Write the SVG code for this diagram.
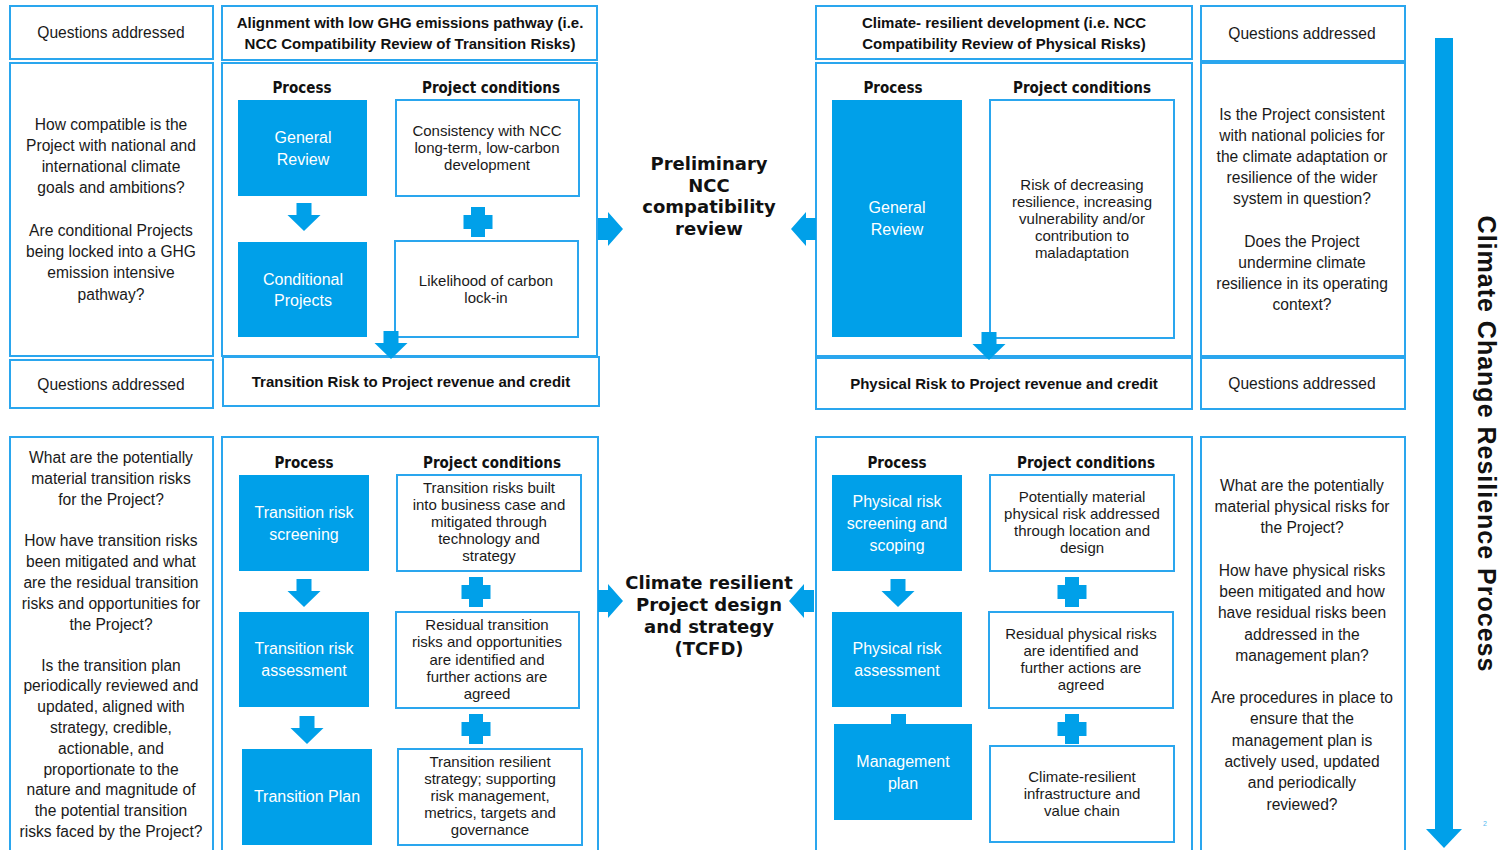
<svg xmlns="http://www.w3.org/2000/svg" xmlns:xlink="http://www.w3.org/1999/xlink" width="1502" height="850" viewBox="0 0 1502 850">
<style>
.frame{fill:#fff;stroke:#2aa6ee;stroke-width:2}
.blue{fill:#00a0e9}
.q{font-family:"Liberation Sans",Arial,sans-serif;font-size:15.6px;fill:#1a1a1a;text-anchor:middle}
.c{font-family:"Liberation Sans",Arial,sans-serif;font-size:15px;fill:#1a1a1a;text-anchor:middle}
.w{font-family:"Liberation Sans",Arial,sans-serif;font-size:16px;fill:#fff;text-anchor:middle}
.h{font-family:"Liberation Sans",Arial,sans-serif;font-size:15px;font-weight:bold;fill:#111;text-anchor:middle}
.sub{font-family:"DejaVu Sans Condensed","DejaVu Sans",Verdana,sans-serif;font-size:15px;font-weight:bold;fill:#111;text-anchor:middle}
.big{font-family:"DejaVu Sans",Verdana,sans-serif;font-size:18px;font-weight:bold;fill:#111;text-anchor:middle}
.side{font-family:"Liberation Sans",Arial,sans-serif;font-size:25px;letter-spacing:1px;font-weight:bold;fill:#111;text-anchor:middle}
</style>
<defs>
<path id="down" class="blue" d="M-7.5,0 h15 v12 h9 l-16.5,16 l-16.5,-16 h9 z"/>
<path id="right" class="blue" d="M0,-11 h10 v-6 l15,17 l-15,17 v-6 h-10 z"/>
<path id="plus" class="blue" d="M-7,-15 h14 v8 h7.5 v14 h-7.5 v8 h-14 v-8 h-7.5 v-14 h7.5 z"/>
</defs>
<rect width="1502" height="850" fill="#fff"/>

<!-- Left questions column -->
<g id="q-header-tl">
<rect class="frame" x="10" y="6" width="203" height="53"/>
<text class="q" x="111" y="38">Questions addressed</text>
</g>
<g id="q-text-tl">
<rect class="frame" x="10" y="63" width="203" height="293"/>
<text class="q"><tspan x="111" y="130">How compatible is the</tspan><tspan x="111" y="151">Project with national and</tspan><tspan x="111" y="172">international climate</tspan><tspan x="111" y="193">goals and ambitions?</tspan><tspan x="111" y="236">Are conditional Projects</tspan><tspan x="111" y="257">being locked into a GHG</tspan><tspan x="111" y="278">emission intensive</tspan><tspan x="111" y="300">pathway?</tspan></text>
</g>
<g id="q-header-bl">
<rect class="frame" x="10" y="360" width="203" height="48"/>
<text class="q" x="111" y="390">Questions addressed</text>
</g>
<g id="q-text-bl">
<rect class="frame" x="10" y="437" width="203" height="420"/>
<text class="q"><tspan x="111" y="463">What are the potentially</tspan><tspan x="111" y="484">material transition risks</tspan><tspan x="111" y="505">for the Project?</tspan><tspan x="111" y="546">How have transition risks</tspan><tspan x="111" y="567">been mitigated and what</tspan><tspan x="111" y="588">are the residual transition</tspan><tspan x="111" y="609">risks and opportunities for</tspan><tspan x="111" y="630">the Project?</tspan><tspan x="111" y="671">Is the transition plan</tspan><tspan x="111" y="691">periodically reviewed and</tspan><tspan x="111" y="712">updated, aligned with</tspan><tspan x="111" y="733">strategy, credible,</tspan><tspan x="111" y="754">actionable, and</tspan><tspan x="111" y="775">proportionate to the</tspan><tspan x="111" y="795">nature and magnitude of</tspan><tspan x="111" y="816">the potential transition</tspan><tspan x="111" y="837">risks faced by the Project?</tspan></text>
</g>

<!-- Transition top -->
<g id="trans-header">
<rect class="frame" x="222" y="6" width="375" height="54"/>
<text class="h"><tspan x="410" y="28">Alignment with low GHG emissions pathway (i.e.</tspan><tspan x="410" y="49">NCC Compatibility Review of Transition Risks)</tspan></text>
</g>
<g id="trans-panel">
<rect class="frame" x="222" y="63" width="375" height="293"/>
<text class="sub" x="302" y="93">Process</text>
<text class="sub" x="491" y="93">Project conditions</text>
</g>
<g id="general-review-1">
<rect class="blue" x="238" y="100" width="129" height="96"/>
<text class="w"><tspan x="303" y="143">General</tspan><tspan x="303" y="165">Review</tspan></text>
</g>
<g id="consistency">
<rect class="frame" x="396" y="100" width="183" height="96"/>
<text class="c"><tspan x="487" y="136">Consistency with NCC</tspan><tspan x="487" y="153">long-term, low-carbon</tspan><tspan x="487" y="170">development</tspan></text>
</g>
<g id="conditional-projects">
<rect class="blue" x="238" y="242" width="129" height="95"/>
<text class="w"><tspan x="303" y="285">Conditional</tspan><tspan x="303" y="306">Projects</tspan></text>
</g>
<g id="carbon-lockin">
<rect class="frame" x="395" y="241" width="183" height="96"/>
<text class="c"><tspan x="486" y="286">Likelihood of carbon</tspan><tspan x="486" y="303">lock-in</tspan></text>
</g>
<g id="trans-risk-bar">
<rect class="frame" x="223" y="357" width="376" height="49"/>
<text class="h" x="411" y="387">Transition Risk to Project revenue and credit</text>
</g>

<!-- Physical top -->
<g id="phys-header">
<rect class="frame" x="816" y="6" width="376" height="53"/>
<text class="h"><tspan x="1004" y="28">Climate- resilient development (i.e. NCC</tspan><tspan x="1004" y="49">Compatibility Review of Physical Risks)</tspan></text>
</g>
<g id="phys-panel">
<rect class="frame" x="816" y="63" width="376" height="293"/>
<text class="sub" x="893" y="93">Process</text>
<text class="sub" x="1082" y="93">Project conditions</text>
</g>
<g id="general-review-2">
<rect class="blue" x="832" y="100" width="130" height="237"/>
<text class="w"><tspan x="897" y="213">General</tspan><tspan x="897" y="235">Review</tspan></text>
</g>
<g id="risk-decreasing">
<rect class="frame" x="990" y="100" width="184" height="238"/>
<text class="c"><tspan x="1082" y="190">Risk of decreasing</tspan><tspan x="1082" y="207">resilience, increasing</tspan><tspan x="1082" y="224">vulnerability and/or</tspan><tspan x="1082" y="241">contribution to</tspan><tspan x="1082" y="258">maladaptation</tspan></text>
</g>
<g id="phys-risk-bar">
<rect class="frame" x="816" y="358" width="376" height="51"/>
<text class="h" x="1004" y="389">Physical Risk to Project revenue and credit</text>
</g>

<!-- Right questions column -->
<g id="q-header-tr">
<rect class="frame" x="1201" y="6" width="204" height="55"/>
<text class="q" x="1302" y="39">Questions addressed</text>
</g>
<g id="q-text-tr">
<rect class="frame" x="1201" y="63" width="204" height="293"/>
<text class="q"><tspan x="1302" y="120">Is the Project consistent</tspan><tspan x="1302" y="141">with national policies for</tspan><tspan x="1302" y="162">the climate adaptation or</tspan><tspan x="1302" y="183">resilience of the wider</tspan><tspan x="1302" y="204">system in question?</tspan><tspan x="1302" y="247">Does the Project</tspan><tspan x="1302" y="268">undermine climate</tspan><tspan x="1302" y="289">resilience in its operating</tspan><tspan x="1302" y="310">context?</tspan></text>
</g>
<g id="q-header-br">
<rect class="frame" x="1201" y="358" width="204" height="51"/>
<text class="q" x="1302" y="389">Questions addressed</text>
</g>
<g id="q-text-br">
<rect class="frame" x="1201" y="437" width="204" height="420"/>
<text class="q"><tspan x="1302" y="491">What are the potentially</tspan><tspan x="1302" y="512">material physical risks for</tspan><tspan x="1302" y="533">the Project?</tspan><tspan x="1302" y="576">How have physical risks</tspan><tspan x="1302" y="597">been mitigated and how</tspan><tspan x="1302" y="618">have residual risks been</tspan><tspan x="1302" y="640">addressed in the</tspan><tspan x="1302" y="661">management plan?</tspan><tspan x="1302" y="703">Are procedures in place to</tspan><tspan x="1302" y="724">ensure that the</tspan><tspan x="1302" y="746">management plan is</tspan><tspan x="1302" y="767">actively used, updated</tspan><tspan x="1302" y="788">and periodically</tspan><tspan x="1302" y="810">reviewed?</tspan></text>
</g>

<!-- Transition bottom -->
<g id="trans-bottom-panel">
<rect class="frame" x="222" y="437" width="376" height="420"/>
<text class="sub" x="304" y="468">Process</text>
<text class="sub" x="492" y="468">Project conditions</text>
</g>
<g id="tr-screening">
<rect class="blue" x="239" y="475" width="130" height="96"/>
<text class="w"><tspan x="304" y="518">Transition risk</tspan><tspan x="304" y="540">screening</tspan></text>
</g>
<g id="tr-built">
<rect class="frame" x="397" y="475" width="184" height="96"/>
<text class="c"><tspan x="489" y="493">Transition risks built</tspan><tspan x="489" y="510">into business case and</tspan><tspan x="489" y="527">mitigated through</tspan><tspan x="489" y="544">technology and</tspan><tspan x="489" y="561">strategy</tspan></text>
</g>
<g id="tr-assessment">
<rect class="blue" x="239" y="612" width="130" height="95"/>
<text class="w"><tspan x="304" y="654">Transition risk</tspan><tspan x="304" y="676">assessment</tspan></text>
</g>
<g id="tr-residual">
<rect class="frame" x="396" y="612" width="183" height="96"/>
<text class="c"><tspan x="487" y="630">Residual transition</tspan><tspan x="487" y="647">risks and opportunities</tspan><tspan x="487" y="665">are identified and</tspan><tspan x="487" y="682">further actions are</tspan><tspan x="487" y="699">agreed</tspan></text>
</g>
<g id="tr-plan">
<rect class="blue" x="242" y="749" width="130" height="96"/>
<text class="w" x="307" y="802">Transition Plan</text>
</g>
<g id="tr-resilient">
<rect class="frame" x="398" y="749" width="184" height="96"/>
<text class="c"><tspan x="490" y="767">Transition resilient</tspan><tspan x="490" y="784">strategy; supporting</tspan><tspan x="490" y="801">risk management,</tspan><tspan x="490" y="818">metrics, targets and</tspan><tspan x="490" y="835">governance</tspan></text>
</g>

<!-- Physical bottom -->
<g id="phys-bottom-panel">
<rect class="frame" x="816" y="437" width="376" height="420"/>
<text class="sub" x="897" y="468">Process</text>
<text class="sub" x="1086" y="468">Project conditions</text>
</g>
<g id="ph-screening">
<rect class="blue" x="832" y="475" width="130" height="96"/>
<text class="w"><tspan x="897" y="507">Physical risk</tspan><tspan x="897" y="529">screening and</tspan><tspan x="897" y="551">scoping</tspan></text>
</g>
<g id="ph-potential">
<rect class="frame" x="990" y="475" width="184" height="96"/>
<text class="c"><tspan x="1082" y="502">Potentially material</tspan><tspan x="1082" y="519">physical risk addressed</tspan><tspan x="1082" y="536">through location and</tspan><tspan x="1082" y="553">design</tspan></text>
</g>
<g id="ph-assessment">
<rect class="blue" x="832" y="612" width="130" height="95"/>
<text class="w"><tspan x="897" y="654">Physical risk</tspan><tspan x="897" y="676">assessment</tspan></text>
</g>
<g id="ph-residual">
<rect class="frame" x="989" y="612" width="184" height="96"/>
<text class="c"><tspan x="1081" y="639">Residual physical risks</tspan><tspan x="1081" y="656">are identified and</tspan><tspan x="1081" y="673">further actions are</tspan><tspan x="1081" y="690">agreed</tspan></text>
</g>
<g id="ph-management">
<rect class="blue" x="891" y="714" width="15" height="11"/>
<rect class="blue" x="834" y="724" width="138" height="96"/>
<text class="w"><tspan x="903" y="767">Management</tspan><tspan x="903" y="789">plan</tspan></text>
</g>
<g id="ph-infrastructure">
<rect class="frame" x="990" y="746" width="184" height="96"/>
<text class="c"><tspan x="1082" y="782">Climate-resilient</tspan><tspan x="1082" y="799">infrastructure and</tspan><tspan x="1082" y="816">value chain</tspan></text>
</g>

<!-- Centre labels -->
<g id="centre-top">
<text class="big"><tspan x="709" y="170">Preliminary</tspan><tspan x="709" y="192">NCC</tspan><tspan x="709" y="213">compatibility</tspan><tspan x="709" y="235">review</tspan></text>
</g>
<g id="centre-bottom">
<text class="big"><tspan x="709" y="589">Climate resilient</tspan><tspan x="709" y="611">Project design</tspan><tspan x="709" y="633">and strategy</tspan><tspan x="709" y="655">(TCFD)</tspan></text>
</g>

<!-- Side process arrow -->
<g id="process-arrow">
<rect class="blue" x="1435" y="38" width="18" height="792"/>
<path class="blue" d="M1426,829 h36 l-18,19 z"/>
<text class="side" transform="translate(1478,444) rotate(90)" x="0" y="0">Climate Change Resilience Process</text>
<text x="1485" y="826" font-family="Liberation Sans,Arial,sans-serif" font-size="7" fill="#55b8f0" text-anchor="middle">2</text>
</g>

<!-- Connectors -->
<g id="connectors">
<use xlink:href="#down" x="304" y="203"/>
<use xlink:href="#plus" x="478" y="222"/>
<use xlink:href="#down" x="391" y="331"/>
<use xlink:href="#down" x="989" y="332"/>
<use xlink:href="#right" x="598" y="229"/>
<use xlink:href="#right" transform="translate(816,229) scale(-1,1)"/>
<use xlink:href="#down" x="304" y="579"/>
<use xlink:href="#plus" x="476" y="592"/>
<use xlink:href="#down" x="307" y="716"/>
<use xlink:href="#plus" x="476" y="729"/>
<use xlink:href="#right" x="598" y="601"/>
<use xlink:href="#right" transform="translate(814,601) scale(-1,1)"/>
<use xlink:href="#down" x="898" y="579"/>
<use xlink:href="#plus" x="1072" y="592"/>
<use xlink:href="#plus" x="1072" y="729"/>
</g>
</svg>
